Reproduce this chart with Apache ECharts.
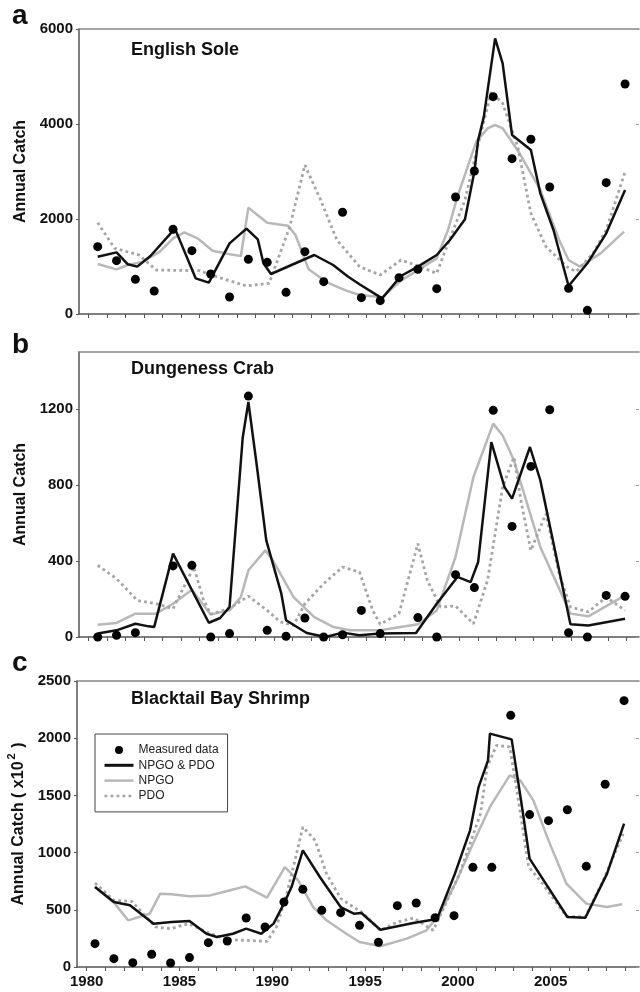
<!DOCTYPE html>
<html>
<head>
<meta charset="utf-8">
<script src="https://cdn.jsdelivr.net/npm/echarts@6/dist/echarts.min.js"></script>
<style>
  html, body { margin: 0; padding: 0; background: #fff; }
  #chart { width: 640px; height: 992px; }
</style>
</head>
<body>
<div id="chart"></div>
<script>
// years of the measured points
const years = [1980, 1981, 1982, 1983, 1984, 1985, 1986, 1987, 1988, 1989, 1990, 1991, 1992, 1993, 1994,
  1995, 1996, 1997, 1998, 1999, 2000, 2001, 2002, 2003, 2004, 2005, 2006, 2007, 2008];
const tickYears = [1980, 1981, 1982, 1983, 1984, 1985, 1986, 1987, 1988, 1989, 1990, 1991, 1992, 1993, 1994,
  1995, 1996, 1997, 1998, 1999, 2000, 2001, 2002, 2003, 2004, 2005, 2006, 2007, 2008, 2009];
const labelYears = [1980, 1985, 1990, 1995, 2000, 2005];

// a - English Sole
const soleMeasured = [1418, 1123, 730, 484, 1783, 1333, 842, 358, 1151, 1088, 456, 1312, 681, 2141, 344,
  281, 765, 940, 533, 2463, 3011, 4576, 3270, 3678, 2674, 540, 77, 2765, 4843];
const soleBoth = [[1980.0, 1207], [1981.0, 1298], [1981.6, 1046], [1982.1, 997], [1982.8, 1221], [1984.1, 1797],
  [1985.2, 751], [1985.9, 660], [1987.0, 1488], [1987.9, 1797], [1988.5, 1572], [1988.8, 1067], [1989.2, 842],
  [1991.5, 1242], [1992.5, 1032], [1993.3, 786], [1993.9, 625], [1995.1, 330], [1996.1, 800], [1997.0, 997],
  [1998.0, 1242], [1998.7, 1558], [1999.5, 1993], [2000.0, 3000], [2000.2, 3660], [2000.5, 4150], [2001.1, 5804],
  [2001.5, 5278], [2002.0, 3769], [2003.0, 3453], [2003.5, 2541], [2004.2, 1769], [2005.0, 590], [2006.0, 1067],
  [2007.0, 1698], [2008.0, 2611]];
const soleNpgo = [[1980.0, 1053], [1981.0, 940], [1981.6, 1032], [1982.4, 1102], [1983.3, 1312], [1984.0, 1593],
  [1984.6, 1719], [1985.3, 1593], [1986.1, 1333], [1987.0, 1260], [1987.6, 1220], [1988.0, 2239], [1989.0, 1923],
  [1990.1, 1860], [1990.5, 1663], [1991.2, 940], [1992.2, 660], [1993.2, 491], [1993.9, 400], [1995.1, 351],
  [1996.1, 702], [1998.0, 1172], [1998.6, 1769], [1999.1, 2470], [2000.1, 3628], [2000.7, 3909], [2001.1, 3979],
  [2001.5, 3909], [2002.4, 3383], [2003.5, 2611], [2004.5, 1558], [2005.0, 1137], [2005.6, 997], [2006.7, 1277],
  [2007.95, 1733]];
const solePdo = [[1980.0, 1923], [1980.9, 1383], [1982.2, 1242], [1983.1, 926], [1985.4, 912], [1986.3, 786],
  [1987.9, 590], [1989.1, 646], [1990.2, 1839], [1991.0, 3137], [1991.8, 2435], [1992.7, 1558], [1993.9, 997],
  [1995.0, 821], [1996.1, 1137], [1997.1, 997], [1998.0, 856], [1998.4, 1277], [1999.5, 2400], [2000.3, 3734],
  [2000.9, 4681], [2001.5, 4435], [2002.3, 3523], [2003.0, 2119], [2003.8, 1418], [2004.9, 997], [2005.4, 891],
  [2006.3, 1277], [2007.0, 1769], [2008.0, 2997]];

// b - Dungeness Crab
const crabMeasured = [0, 9, 23, null, 374, 377, 0, 18, 1268, 35, 4, 100, 0, 12, 140, 18, null, 102, 0, 328,
  260, 1193, 582, 898, 1196, 23, 0, 219, 214];
const crabBoth = [[1980.0, 18], [1981.0, 35], [1982.0, 70], [1982.7, 56], [1983.0, 53], [1984.0, 439], [1985.9, 75],
  [1986.5, 100], [1987.0, 158], [1987.7, 1050], [1988.0, 1237], [1988.45, 900], [1988.95, 509], [1989.75, 228],
  [1990.0, 88], [1991.1, 21], [1992.1, 0], [1993.0, 23], [1993.9, 9], [1995.0, 18], [1996.9, 21], [1998.0, 175],
  [1999.1, 316], [1999.8, 289], [2000.2, 395], [2000.9, 1026], [2001.6, 789], [2002.0, 728], [2002.95, 1000],
  [2003.5, 825], [2005.1, 67], [2006.05, 61], [2008.0, 96]];
const crabNpgo = [[1980.0, 65], [1981.0, 74], [1982.0, 123], [1983.1, 123], [1984.0, 175], [1985.0, 249],
  [1986.0, 119], [1987.0, 140], [1987.6, 210], [1988.0, 351], [1988.9, 456], [1989.3, 403], [1990.4, 210],
  [1991.5, 105], [1992.5, 53], [1993.4, 35], [1995.0, 35], [1997.0, 67], [1998.0, 140], [1999.0, 421],
  [1999.95, 842], [2001.0, 1123], [2001.5, 1061], [2002.1, 930], [2003.5, 474], [2005.1, 123], [2006.05, 109],
  [2008.0, 219]];
const crabPdo = [[1980.0, 377], [1981.0, 307], [1982.1, 193], [1983.1, 175], [1984.0, 149], [1985.1, 368],
  [1985.6, 200], [1986.0, 120], [1987.0, 150], [1988.0, 215], [1989.0, 140], [1989.7, 79], [1990.4, 61],
  [1991.0, 175], [1992.0, 281], [1993.0, 368], [1993.9, 342], [1994.6, 140], [1995.0, 67], [1996.0, 123],
  [1997.0, 491], [1997.5, 298], [1998.2, 158], [1999.0, 163], [1999.95, 70], [2000.7, 298], [2001.5, 789],
  [2002.1, 947], [2002.5, 702], [2003.0, 456], [2003.8, 649], [2004.5, 333], [2005.1, 158], [2006.05, 132],
  [2007.0, 210], [2008.0, 140]];

// c - Blacktail Bay Shrimp (x10^2)
const shrimpMeasured = [204, 73, 38, 111, 35, 82, 213, 227, 428, 350, 568, 679, 495, 475, 364, 216, 536, 559,
  431, 449, 871, 871, 2200, 1332, 1279, 1375, 880, 1597, 2328];
const shrimpBoth = [[1980.0, 699], [1981.0, 568], [1981.85, 539], [1983.1, 379], [1984.05, 393], [1985.0, 402],
  [1985.9, 291], [1986.45, 262], [1987.3, 291], [1988.0, 335], [1988.8, 291], [1989.45, 379], [1990.0, 554],
  [1990.4, 699], [1991.0, 1020], [1991.9, 787], [1993.0, 524], [1993.7, 466], [1994.1, 472], [1995.1, 326],
  [1996.85, 385], [1998.1, 420], [1999.05, 816], [1999.85, 1195], [2000.3, 1573], [2000.8, 1806], [2000.9, 2040],
  [2002.05, 1990], [2002.6, 1399], [2003.0, 947], [2005.0, 437], [2005.95, 431], [2007.1, 816], [2008.0, 1253]];
const shrimpNpgo = [[1980.0, 699], [1981.05, 554], [1981.75, 408], [1982.9, 466], [1983.45, 641], [1984.05, 635],
  [1985.0, 618], [1986.1, 626], [1987.0, 664], [1987.95, 705], [1989.1, 606], [1990.05, 874], [1990.75, 758],
  [1991.55, 524], [1992.25, 408], [1993.3, 291], [1994.0, 219], [1995.1, 181], [1996.5, 248], [1997.55, 321],
  [1998.25, 466], [1999.15, 758], [2000.0, 1078], [2000.9, 1399], [2001.95, 1675], [2002.5, 1632], [2003.2, 1457],
  [2004.0, 1107], [2004.95, 728], [2006.0, 554], [2007.1, 524], [2007.9, 548]];
const shrimpPdo = [[1980.0, 734], [1981.0, 583], [1981.95, 574], [1983.2, 350], [1984.0, 335], [1984.95, 379],
  [1985.9, 306], [1987.0, 239], [1988.0, 233], [1989.1, 224], [1989.6, 350], [1990.15, 641], [1990.5, 874],
  [1991.0, 1224], [1991.65, 1107], [1992.25, 816], [1993.0, 600], [1993.7, 520], [1994.05, 490], [1995.1, 321],
  [1996.0, 393], [1996.85, 428], [1997.9, 321], [1999.3, 816], [2000.4, 1340], [2000.75, 1748], [2001.25, 1938],
  [2001.95, 1923], [2002.3, 1573], [2002.95, 874], [2003.55, 758], [2004.95, 443], [2005.95, 437], [2006.9, 758],
  [2007.95, 1165]];

const yTicksA = [0, 2000, 4000, 6000];
const yTicksB = [0, 400, 800, 1200];
const yTicksC = [0, 500, 1000, 1500, 2000, 2500];

const FONT = "'Liberation Sans', Arial, sans-serif";
const plain = v => String(Math.round(v));

const panels = [
  { measured: soleMeasured, both: soleBoth, npgo: soleNpgo, pdo: solePdo, yMax: 6000, yTicks: yTicksA,
    grid: { left: 79, right: 1, top: 29, height: 285 }, dataMin: 1979.007, dataMax: 2008.74, tickMin: 1979.5 },
  { measured: crabMeasured, both: crabBoth, npgo: crabNpgo, pdo: crabPdo, yMax: 1500, yTicks: yTicksB,
    grid: { left: 79, right: 1, top: 352, height: 285 }, dataMin: 1979.007, dataMax: 2008.74, tickMin: 1979.5 },
  { measured: shrimpMeasured, both: shrimpBoth, npgo: shrimpNpgo, pdo: shrimpPdo, yMax: 2500, yTicks: yTicksC,
    grid: { left: 77, right: 1, top: 681, height: 286 }, dataMin: 1979.047, dataMax: 2008.79, tickMin: 1979.477 }
];

const xAxes = [];
const yAxes = [];
const series = [];

panels.forEach((p, i) => {
  const width = 640 - p.grid.left - p.grid.right;
  const tickMax = p.tickMin + width / 18.56;
  // hidden axis the data is drawn on
  xAxes.push({ type: "value", gridIndex: i, min: p.dataMin, max: p.dataMax, show: false });
  // bottom axis with a tick every year
  xAxes.push({
    type: "value", gridIndex: i, position: "bottom", min: p.tickMin, max: tickMax,
    axisLine: { show: true, onZero: false, lineStyle: { color: "#555", width: 1.5 } },
    axisTick: { show: true, customValues: tickYears, length: 4, lineStyle: { color: "#555", width: 1 } },
    axisLabel: {
      show: i === 2, customValues: labelYears, margin: 7, formatter: plain,
      fontSize: 15, fontWeight: "bold", color: "#111", fontFamily: FONT
    },
    splitLine: { show: false }
  });
  // top frame
  xAxes.push({
    type: "value", gridIndex: i, position: "top", min: p.tickMin, max: tickMax,
    axisLine: { show: true, onZero: false, lineStyle: { color: "#888", width: 1.5 } },
    axisTick: { show: false }, axisLabel: { show: false }, splitLine: { show: false }
  });

  yAxes.push({
    type: "value", gridIndex: i, position: "left", min: 0, max: p.yMax,
    axisLine: { show: true, onZero: false, lineStyle: { color: "#555", width: 1.5 } },
    axisTick: { show: true, customValues: p.yTicks, length: 3, lineStyle: { color: "#555" } },
    axisLabel: {
      customValues: p.yTicks, margin: 6, formatter: plain,
      fontSize: 15, fontWeight: "bold", color: "#111", fontFamily: FONT
    },
    splitLine: { show: false },
    name: i === 2 ? "{t|Annual Catch ( x10}{s|2}{t| )}" : "Annual Catch",
    nameLocation: "middle",
    nameGap: i === 2 ? 44 : 48,
    nameRotate: 90,
    nameTextStyle: {
      fontSize: 16, fontWeight: "bold", color: "#111", fontFamily: FONT,
      rich: {
        t: { fontSize: 16, fontWeight: "bold", color: "#111", fontFamily: FONT, lineHeight: 20, verticalAlign: "bottom" },
        s: { fontSize: 11, fontWeight: "bold", color: "#111", fontFamily: FONT, lineHeight: 20, verticalAlign: "top", padding: [0, 1, 0, 2] }
      }
    }
  });
  yAxes.push({
    type: "value", gridIndex: i, position: "right", min: 0, max: p.yMax,
    axisLine: { show: false },
    axisTick: { show: true, inside: true, customValues: p.yTicks, length: 3, lineStyle: { color: "#999" } },
    axisLabel: { show: false },
    splitLine: { show: false }
  });

  const xi = i * 3;
  const yi = i * 2;
  series.push({
    name: "NPGO", type: "line", xAxisIndex: xi, yAxisIndex: yi, data: p.npgo,
    symbol: "none", itemStyle: { color: "#b8b8b8" }, lineStyle: { color: "#b8b8b8", width: 2.5 }, z: 2
  });
  series.push({
    name: "PDO", type: "line", xAxisIndex: xi, yAxisIndex: yi, data: p.pdo,
    symbol: "none", itemStyle: { color: "#a5a5a5" }, lineStyle: { color: "#a5a5a5", width: 2.8, type: [2.8, 3.2] }, z: 3
  });
  series.push({
    name: "NPGO & PDO", type: "line", xAxisIndex: xi, yAxisIndex: yi, data: p.both,
    symbol: "none", itemStyle: { color: "#111" }, lineStyle: { color: "#111", width: 2.5 }, z: 4
  });
  series.push({
    name: "Measured data", type: "scatter", xAxisIndex: xi, yAxisIndex: yi,
    data: years.map((y, k) => [y, p.measured[k]]).filter(d => d[1] !== null),
    symbol: "circle", symbolSize: 9, itemStyle: { color: "#000", opacity: 1 }, z: 5
  });
});

const letterStyle = { fontSize: 28, fontWeight: "bold", color: "#111", fontFamily: FONT };
const nameStyle = { fontSize: 18, fontWeight: "bold", color: "#111", fontFamily: FONT };
const hiddenSymbol = { color: "rgba(0,0,0,0)", borderWidth: 0, opacity: 0 };

const chart = echarts.init(document.getElementById("chart"));
chart.setOption({
  animation: false,
  backgroundColor: "#fff",
  title: [
    { text: "a", left: 12, top: 2, padding: 0, textStyle: letterStyle },
    { text: "b", left: 12, top: 331, padding: 0, textStyle: letterStyle },
    { text: "c", left: 12, top: 649, padding: 0, textStyle: letterStyle },
    { text: "English Sole", left: 131, top: 41, padding: 0, textStyle: nameStyle },
    { text: "Dungeness Crab", left: 131, top: 360, padding: 0, textStyle: nameStyle },
    { text: "Blacktail Bay Shrimp", left: 131, top: 690, padding: 0, textStyle: nameStyle }
  ],
  legend: {
    orient: "vertical", left: 95, top: 734,
    padding: [9, 9, 9, 8],
    itemWidth: 29, itemHeight: 8, itemGap: 1.3,
    borderColor: "#444", borderWidth: 1,
    selectedMode: false,
    textStyle: { fontSize: 12, lineHeight: 14, color: "#222", fontFamily: FONT },
    data: [
      { name: "Measured data", icon: "circle" },
      { name: "NPGO & PDO", itemStyle: hiddenSymbol, lineStyle: { width: 3 } },
      { name: "NPGO", itemStyle: hiddenSymbol, lineStyle: { width: 2.5 } },
      { name: "PDO", itemStyle: hiddenSymbol, lineStyle: { width: 2.5 } }
    ]
  },
  grid: panels.map(p => Object.assign({ outerBoundsMode: "none", containLabel: false }, p.grid)),
  xAxis: xAxes,
  yAxis: yAxes,
  series: series
});
</script>
</body>
</html>
